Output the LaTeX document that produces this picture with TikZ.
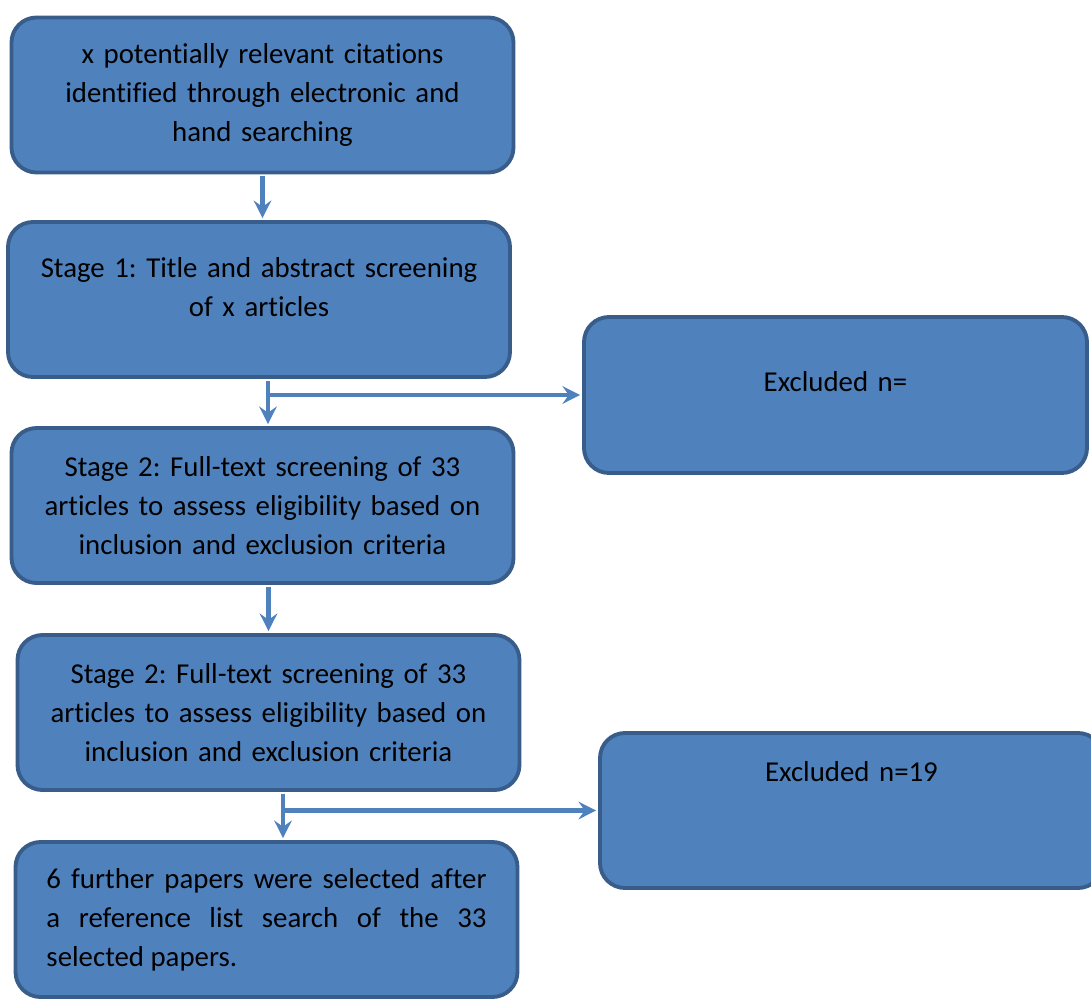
\documentclass[tikz,border=0pt]{standalone}
\usepackage{fontspec}
\setmainfont[Ligatures={NoCommon}]{Carlito}
\frenchspacing
\usetikzlibrary{arrows.meta, positioning}

\definecolor{boxfill}{HTML}{4F81BD}
\definecolor{boxline}{HTML}{385D8A}

\tikzset{
  flowbox/.style={draw=boxline, fill=boxfill, line width=2.2pt, rounded corners=0.5cm,
    minimum width=10.04cm, minimum height=3.1cm, inner sep=0pt},
  boxtext/.style={font=\fontsize{16.4}{22.1}\selectfont, align=center, text width=9.6cm},
  flowarrow/.style={draw=boxfill, line width=2.6pt, shorten <=1.1pt, shorten >=1.1pt,
    -{Stealth[length=10pt,width=10pt,inset=3.5pt]}}
}

\begin{document}
\begin{tikzpicture}
\useasboundingbox (0,0) rectangle (21.82,-20);
\clip (0,0) rectangle (21.82,-20);

% left column
\node [flowbox, boxtext] (search) at (5.25,-1.9)
  {x potentially relevant citations\\identified through electronic and\\hand searching};
\node [flowbox] (stageone) at (5.18,-5.99) {};
\node [boxtext] (stageonetext) at (5.18,-5.74)
  {Stage 1: Title and abstract screening\\of x articles};
\node [flowbox, boxtext] (stagetwo) at (5.25,-10.11)
  {Stage 2: Full-text screening of 33\\articles to assess eligibility based on\\inclusion and exclusion criteria};
\node [flowbox, boxtext] (stagetwob) at (5.37,-14.25)
  {Stage 2: Full-text screening of 33\\articles to assess eligibility based on\\inclusion and exclusion criteria};
\node [flowbox, boxtext, align=justify, text width=8.8cm] (further) at (5.33,-18.39)
  {6 further papers were selected after\linebreak a reference list search of the 33\linebreak selected papers.};

% right column
\node [flowbox, minimum width=10.06cm, minimum height=3.12cm] (exclone) at (16.71,-7.9) {};
\node [boxtext] (exclonetext) at (16.71,-7.64) {Excluded n=};
\node [flowbox, minimum width=10.06cm] (excltwo) at (17.03,-16.21) {};
\node [boxtext] (excltwotext) at (17.03,-15.44) {Excluded n=19};

% connectors
\draw [flowarrow] (search.south) -- (search.south |- stageone.north);
\coordinate (splitone) at ([xshift=0.18cm]stageone.south);
\draw [flowarrow] (splitone) -- (splitone |- stagetwo.north);
\draw [flowarrow] (splitone |- exclone.west) -- (exclone.west);
\draw [flowarrow] (stagetwo.south -| stagetwob.north) -- (stagetwob.north);
\coordinate (splittwo) at ([xshift=0.29cm]stagetwob.south);
\draw [flowarrow] (splittwo) -- (splittwo |- further.north);
\draw [flowarrow] (splittwo |- excltwo.west) -- (excltwo.west);
\end{tikzpicture}
\end{document}
